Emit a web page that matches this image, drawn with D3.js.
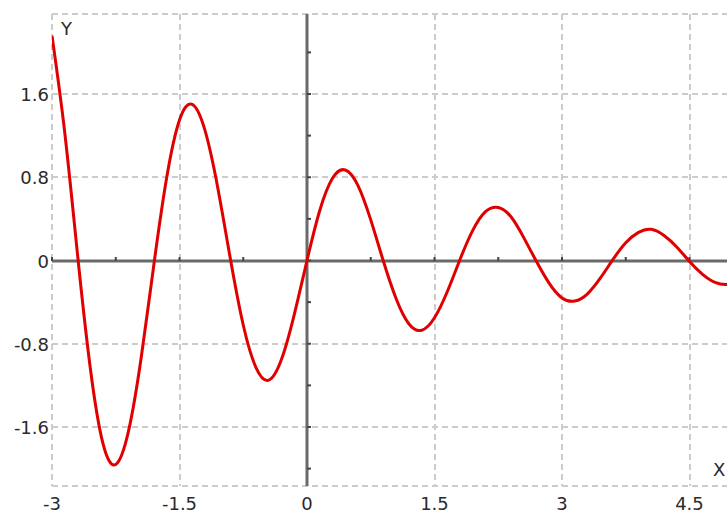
<!DOCTYPE html>
<html>
<head>
<meta charset="utf-8">
<script src="https://cdn.jsdelivr.net/npm/d3@7"></script>
<style>
  html, body { margin: 0; padding: 0; background: #fff; }
  svg { display: block; font-family: "DejaVu Sans", sans-serif; }
</style>
</head>
<body>
<svg id="chart" width="727" height="513"></svg>
<script>
// Values, every 0.15 on x
const xValues = [
  -3, -2.85, -2.7, -2.55, -2.4, -2.25, -2.1, -1.95, -1.8, -1.65,
  -1.5, -1.35, -1.2, -1.05, -0.9, -0.75, -0.6, -0.45, -0.3, -0.15,
  0, 0.15, 0.3, 0.45, 0.6, 0.75, 0.9, 1.05, 1.2, 1.35,
  1.5, 1.65, 1.8, 1.95, 2.1, 2.25, 2.4, 2.55, 2.7, 2.85,
  3, 3.15, 3.3, 3.45, 3.6, 3.75, 3.9, 4.05, 4.2, 4.35,
  4.5, 4.65, 4.8, 4.95, 5.1,
];
const yValues = [
  2.16, 1.23, 0.06, -1.03, -1.76, -1.96, -1.64, -0.93, -0.03, 0.8,
  1.35, 1.5, 1.25, 0.7, 0.01, -0.62, -1.03, -1.15, -0.95, -0.52,
  0, 0.48, 0.79, 0.87, 0.72, 0.39, -0.01, -0.37, -0.61, -0.67,
  -0.55, -0.3, 0.01, 0.29, 0.47, 0.51, 0.42, 0.22, -0.01, -0.22,
  -0.36, -0.39, -0.32, -0.17, 0.01, 0.17, 0.27, 0.3, 0.24, 0.13,
  -0.01, -0.13, -0.21, -0.23, -0.2,
];

const xTicks = [-3, -1.5, 0, 1.5, 3, 4.5];
const xMinorTicks = [-2.25, -0.75, 0.75, 2.25, 3.75];
const yTicks = [-1.6, -0.8, 0, 0.8, 1.6];
const yMinorTicks = [-2, -1.2, -0.4, 0.4, 1.2, 2];

(function () {
  const points = xValues.map((x, i) => ({ x, y: yValues[i] }));

  const svg = d3.select("#chart");
  const left = 52, right = 727, plotTop = 14, plotBottom = 486;

  const x = d3.scaleLinear().domain([-3, 5]).range([left, left + 8 * 85]);
  const y = d3.scaleLinear().domain([-1.6, 1.6]).range([427, 94]);

  const gridColor = "#cccccc";
  const axisColor = "#6a6a6a";
  const textColor = "#2a2a2a";

  // dashed grid, borders included
  const grid = svg.append("g")
    .attr("stroke", gridColor)
    .attr("stroke-width", 2)
    .attr("stroke-dasharray", "6,4");

  grid.selectAll("line.v")
    .data(xTicks.filter((d) => d !== 0))
    .join("line")
    .attr("x1", (d) => Math.round(x(d)))
    .attr("x2", (d) => Math.round(x(d)))
    .attr("y1", plotTop)
    .attr("y2", plotBottom);

  const hLines = [plotTop, plotBottom].concat(yTicks.filter((d) => d !== 0).map((d) => Math.round(y(d))));
  grid.selectAll("line.h")
    .data(hLines)
    .join("line")
    .attr("x1", left)
    .attr("x2", right)
    .attr("y1", (d) => d)
    .attr("y2", (d) => d);

  // axes through the origin
  const x0 = Math.round(x(0));
  const y0 = Math.round(y(0));
  const axes = svg.append("g").attr("stroke", axisColor).attr("stroke-width", 3);
  axes.append("line").attr("x1", left).attr("x2", right).attr("y1", y0).attr("y2", y0);
  axes.append("line").attr("x1", x0).attr("x2", x0).attr("y1", plotTop).attr("y2", plotBottom);

  // small ticks on the axes
  const ticks = svg.append("g").attr("stroke", "#444").attr("stroke-width", 2);
  ticks.selectAll("line.xt")
    .data(xTicks.concat(xMinorTicks))
    .join("line")
    .attr("x1", (d) => x(d))
    .attr("x2", (d) => x(d))
    .attr("y1", y0 - 4)
    .attr("y2", y0);
  ticks.selectAll("line.yt")
    .data(yTicks.concat(yMinorTicks))
    .join("line")
    .attr("x1", x0)
    .attr("x2", x0 + 4)
    .attr("y1", (d) => y(d))
    .attr("y2", (d) => y(d));

  // curve
  svg.append("clipPath").attr("id", "plot-clip")
    .append("rect")
    .attr("x", left).attr("y", plotTop)
    .attr("width", right - left).attr("height", plotBottom - plotTop);

  const line = d3.line()
    .x((d) => x(d.x))
    .y((d) => y(d.y))
    .curve(d3.curveNatural);

  svg.append("path")
    .datum(points)
    .attr("clip-path", "url(#plot-clip)")
    .attr("fill", "none")
    .attr("stroke", "#e00000")
    .attr("stroke-width", 3)
    .attr("stroke-linejoin", "round")
    .attr("d", line);

  // tick labels
  const fmt = (d) => String(d);
  svg.append("g")
    .selectAll("text")
    .data(xTicks)
    .join("text")
    .attr("x", (d) => x(d))
    .attr("y", 510)
    .attr("text-anchor", "middle")
    .attr("font-size", 18)
    .attr("fill", textColor)
    .text(fmt);

  svg.append("g")
    .selectAll("text")
    .data(yTicks)
    .join("text")
    .attr("x", 49)
    .attr("y", (d) => y(d) + 7)
    .attr("text-anchor", "end")
    .attr("font-size", 18)
    .attr("fill", textColor)
    .text(fmt);

  // axis names
  svg.append("text").attr("x", 61).attr("y", 35)
    .attr("font-size", 18).attr("fill", textColor).text("Y");
  svg.append("text").attr("x", 713).attr("y", 476)
    .attr("font-size", 18).attr("fill", textColor).text("X");
})();
</script>
</body>
</html>
